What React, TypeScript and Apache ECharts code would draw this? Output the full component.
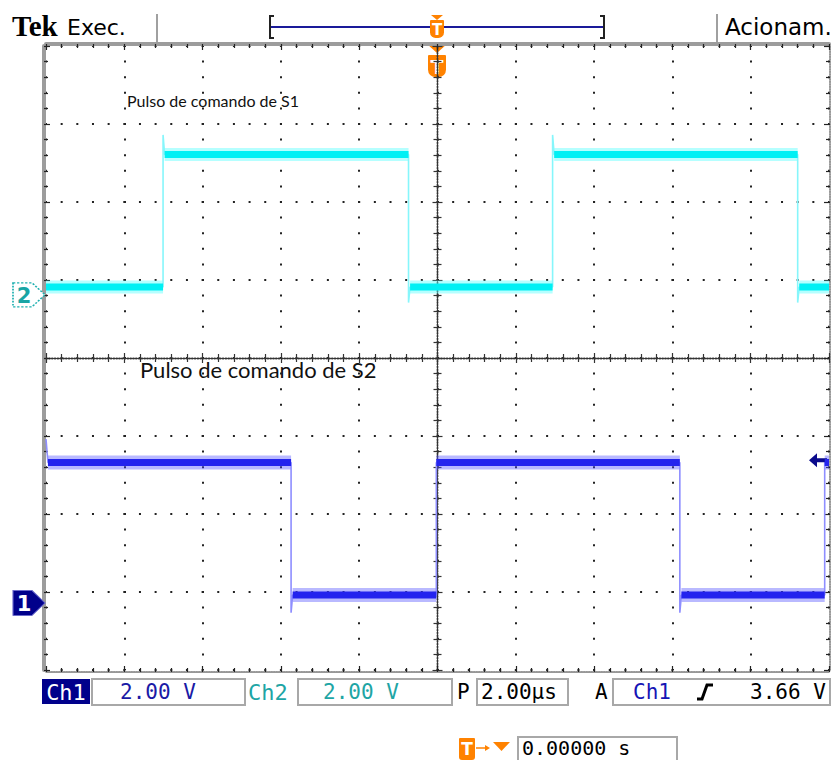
import React, { useEffect, useRef } from "react";
import * as echarts from "echarts";

// ---- scope settings ----
const timeMinUs = -10;
const timeMaxUs = 10;
const timePerDivUs = 2;
const divMinY = -4;
const divMaxY = 4;
const voltsPerDiv = 2;
const ch1OffsetDiv = -3.14; // ground marker "1"
const ch2OffsetDiv = 0.81; // ground marker "2"
const triggerLevelV = 3.66;

// ---- waveform vertices (time in µs, volts) ----
const ch1TimesUs = [-10, -9.95, -3.74, -3.74, -3.7, -0.03, -0.03, 6.19, 6.19, 6.23, 9.89, 9.89, 10];
const ch1Volts = [4.2, 3.6, 3.6, -0.25, 0.2, 0.2, 3.6, 3.6, -0.25, 0.2, 0.2, 3.6, 3.6];

const ch2TimesUs = [-10, -7.01, -7.01, -6.97, -0.74, -0.74, -0.7, 2.94, 2.94, 2.98, 9.2, 9.2, 9.24, 10];
const ch2Volts = [0.2, 0.2, 4.1, 3.6, 3.6, -0.2, 0.2, 0.2, 4.1, 3.6, 3.6, -0.2, 0.2, 0.2];

// ---- readouts ----
const ch1Scale = "2.00 V";
const ch2Scale = "2.00 V";
const timeScale = "2.00µs";
const triggerReadout = "3.66 V";
const triggerPos = "0.00000 s";
const labelS1 = "Pulso de comando de S1";
const labelS2 = "Pulso de comando de S2";

const GRID = { left: 46, top: 46, width: 783, height: 624 };
const subX = GRID.width / ((timeMaxUs - timeMinUs) / timePerDivUs) / 5;
const subY = GRID.height / (divMaxY - divMinY) / 5;

const toDiv = (v: number, off: number) => off + v / voltsPerDiv;

function tracePoints(ts: number[], vs: number[], off: number) {
  return ts.map((t, i) => [t, toDiv(vs[i], off)]);
}
function plateauPoints(ts: number[], vs: number[], off: number) {
  const out: any[] = [];
  for (let i = 0; i < ts.length - 1; i++) {
    if (vs[i] === vs[i + 1] && ts[i + 1] > ts[i]) {
      const y = toDiv(vs[i], off);
      out.push([ts[i], y], [ts[i + 1], y], [ts[i + 1], "-"]);
    }
  }
  return out;
}

const MONO = '"DejaVu Sans Mono"';
const ORANGE = "#ff8200";

function borderAxis(position: string, dim: "x" | "y", lineStyle: any, offset: number) {
  const base: any = {
    type: "value",
    position,
    offset,
    axisLine: { show: true, onZero: false, lineStyle },
    axisTick: { show: true, inside: true, length: 6, lineStyle: { color: "#222", width: 1.2 } },
    minorTick: { show: true, splitNumber: 5, length: 4, lineStyle: { color: "#222", width: 1.2 } },
    axisLabel: { show: false },
    splitLine: { show: false },
  };
  if (dim === "x") Object.assign(base, { min: timeMinUs, max: timeMaxUs, interval: timePerDivUs });
  else Object.assign(base, { min: divMinY, max: divMaxY, interval: 1 });
  return base;
}

function centerAxis(dim: "x" | "y", inside: boolean) {
  const base: any = {
    type: "value",
    position: dim === "x" ? "bottom" : "left",
    axisLine: {
      show: true,
      onZero: true,
      onZeroAxisIndex: 0,
      lineStyle: { color: "#333", width: 1.4, type: [1.4, 1.4] },
    },
    axisTick: { show: true, inside, length: 5, lineStyle: { color: "#333", width: 1.2 } },
    minorTick: { show: true, splitNumber: 5, length: 4, lineStyle: { color: "#333", width: 1.2 } },
    axisLabel: { show: false },
    splitLine: { show: false },
  };
  if (dim === "x") Object.assign(base, { min: timeMinUs, max: timeMaxUs, interval: timePerDivUs });
  else Object.assign(base, { min: divMinY, max: divMaxY, interval: 1 });
  return base;
}

function tMarker(cx: number, triTop: number, triH: number, triW: number, boxTop: number, boxW: number, boxH: number, fs: number) {
  return {
    type: "group",
    children: [
      {
        type: "polygon",
        shape: { points: [[cx - triW / 2, triTop], [cx + triW / 2, triTop], [cx, triTop + triH]] },
        style: { fill: ORANGE },
      },
      {
        type: "rect",
        shape: { x: cx - boxW / 2, y: boxTop, width: boxW, height: boxH, r: [1, 1, boxW / 2.5, boxW / 2.5] },
        style: { fill: ORANGE },
      },
      {
        type: "text",
        x: cx,
        y: boxTop + boxH / 2 + 1,
        style: { text: "T", font: `bold ${fs}px "DejaVu Sans"`, fill: "#fff", align: "center", verticalAlign: "middle" },
      },
    ],
  };
}

function boxRect(x: number, y: number, w: number, h: number) {
  return {
    type: "rect",
    shape: { x, y, width: w, height: h },
    style: { fill: "#fff", stroke: "#a8a8a8", lineWidth: 2 },
  };
}
function txt(x: number, y: number, text: string, font: string, fill: string, align = "left") {
  return { type: "text", x, y, style: { text, font, fill, align, verticalAlign: "middle" } };
}

export default function App() {
  const ref = useRef<HTMLDivElement>(null);
  useEffect(() => {
    if (!ref.current) return;
    const chart = echarts.init(ref.current, undefined, { renderer: "svg" });

    const ch1Trace = tracePoints(ch1TimesUs, ch1Volts, ch1OffsetDiv);
    const ch1Band = plateauPoints(ch1TimesUs, ch1Volts, ch1OffsetDiv);
    const ch2Trace = tracePoints(ch2TimesUs, ch2Volts, ch2OffsetDiv);
    const ch2Band = plateauPoints(ch2TimesUs, ch2Volts, ch2OffsetDiv);

    const lineSeries = (data: any[], color: string, width: number, z: number, extra: any = {}) => ({
      type: "line",
      data,
      xAxisIndex: 0,
      yAxisIndex: 0,
      showSymbol: false,
      symbol: "none",
      silent: true,
      connectNulls: false,
      lineStyle: { color, width, cap: "butt" },
      z,
      ...extra,
    });

    const option: any = {
      animation: false,
      backgroundColor: "#ffffff",
      grid: { ...GRID, containLabel: false },
      xAxis: [
        {
          ...borderAxis("bottom", "x", { color: "#777", width: 1.5, type: [1.5, 1] }, 2),
          splitLine: {
            show: true,
            lineStyle: { color: "#222", width: 2, type: [2, subY - 2], dashOffset: 1 },
          },
        },
        borderAxis("top", "x", { color: "#9c9c9c", width: 4 }, 2),
        centerAxis("x", true),
        centerAxis("x", false),
      ],
      yAxis: [
        {
          ...borderAxis("left", "y", { color: "#9c9c9c", width: 4 }, 2),
          splitLine: {
            show: true,
            lineStyle: { color: "#222", width: 2, type: [2, subX - 2], dashOffset: 1 },
          },
        },
        borderAxis("right", "y", { color: "#777", width: 1.5, type: [1.5, 1] }, 1),
        centerAxis("y", true),
        centerAxis("y", false),
      ],
      series: [
        lineSeries(ch2Band, "rgba(90,255,255,0.45)", 13, 3),
        lineSeries(ch2Trace, "#86f6fb", 1.6, 4),
        lineSeries(ch2Band, "#00f0f4", 7, 5, {
          markPoint: {
            silent: true,
            animation: false,
            data: [
              {
                coord: [timeMinUs, ch2OffsetDiv],
                symbol: "path://M0 0 H19 L32 12.5 L19 25 H0 Z",
                symbolSize: [32, 24],
                symbolOffset: [-17, 0],
                itemStyle: { color: "#ffffff", borderColor: "#1fb0b0", borderWidth: 1.5, borderType: [2, 1.5] },
                label: {
                  show: true,
                  position: "inside",
                  formatter: "2",
                  color: "#19a5a5",
                  fontSize: 21,
                  fontWeight: "bold",
                  fontFamily: "DejaVu Sans",
                  offset: [-5, 1],
                },
              },
            ],
          },
        }),
        lineSeries(ch1Band, "rgba(80,80,255,0.4)", 14, 3),
        lineSeries(ch1Trace, "#8e8eff", 1.6, 4),
        lineSeries(ch1Band, "#2424ee", 7, 5, {
          markPoint: {
            silent: true,
            animation: false,
            data: [
              {
                coord: [timeMinUs, ch1OffsetDiv],
                symbol: "path://M0 0 H19 L32 12.5 L19 25 H0 Z",
                symbolSize: [32, 25],
                symbolOffset: [-17, 0],
                itemStyle: { color: "#00008b", borderColor: "#6666cc", borderWidth: 1 },
                label: {
                  show: true,
                  position: "inside",
                  formatter: "1",
                  color: "#ffffff",
                  fontSize: 21,
                  fontWeight: "bold",
                  fontFamily: "DejaVu Sans",
                  offset: [-5, 1],
                },
              },
              {
                coord: [timeMaxUs, toDiv(triggerLevelV, ch1OffsetDiv)],
                symbol: "path://M0 7 L8 0 L8 5 L18 5 L18 9 L8 9 L8 14 Z",
                symbolSize: [18, 14],
                symbolOffset: [-11, 0],
                itemStyle: { color: "#0a0a8c" },
                label: { show: false },
              },
            ],
          },
        }),
      ],
      graphic: [
        // header
        txt(12, 26, "Tek", 'bold 29px "Liberation Serif"', "#000"),
        txt(67, 27, "Exec.", '22px "DejaVu Sans"', "#000"),
        { type: "line", shape: { x1: 157, y1: 14, x2: 157, y2: 42 }, style: { stroke: "#a0a0a0", lineWidth: 2 } },
        { type: "line", shape: { x1: 717, y1: 14, x2: 717, y2: 42 }, style: { stroke: "#a0a0a0", lineWidth: 2 } },
        { type: "line", shape: { x1: 271, y1: 27, x2: 603, y2: 27 }, style: { stroke: "#1a1a99", lineWidth: 2 } },
        {
          type: "polyline",
          shape: { points: [[274, 16], [270, 16], [270, 38], [274, 38]] },
          style: { stroke: "#222", lineWidth: 2, fill: "none" },
        },
        {
          type: "polyline",
          shape: { points: [[600, 16], [604, 16], [604, 38], [600, 38]] },
          style: { stroke: "#222", lineWidth: 2, fill: "none" },
        },
        tMarker(437, 15, 5, 12, 20, 14, 18, 15),
        tMarker(437, 44, 9, 20, 55, 18, 22, 19),
        txt(725, 27, "Acionam.", '23px "DejaVu Sans"', "#000"),
        // annotations
        txt(127, 100, labelS1, '16px "Lato"', "#111"),
        txt(140, 369, labelS2, '22px "Lato"', "#111"),
        // footer
        { type: "rect", shape: { x: 42, y: 679, width: 48, height: 25 }, style: { fill: "#00008b" } },
        txt(66, 692, "Ch1", `22px ${MONO}`, "#ffffff", "center"),
        boxRect(92, 679, 153, 26),
        txt(120, 692, ch1Scale, `21px ${MONO}`, "#1a1aa6"),
        txt(248, 692, "Ch2", `22px ${MONO}`, "#1ea5a5"),
        boxRect(298, 679, 154, 26),
        txt(323, 692, ch2Scale, `21px ${MONO}`, "#1ea5a5"),
        txt(457, 692, "P", `21px ${MONO}`, "#000"),
        boxRect(477, 679, 91, 26),
        txt(481, 692, timeScale, `21px ${MONO}`, "#000"),
        txt(595, 692, "A", `21px ${MONO}`, "#000"),
        boxRect(613, 679, 217, 26),
        txt(633, 692, "Ch1", `21px ${MONO}`, "#1515b5"),
        {
          type: "polyline",
          shape: { points: [[697, 699], [702, 699], [707, 685], [713, 685]] },
          style: { stroke: "#000", lineWidth: 3, fill: "none" },
        },
        txt(750, 692, triggerReadout, `21px ${MONO}`, "#000"),
        // trigger position
        { type: "rect", shape: { x: 459, y: 738, width: 16, height: 22, r: [1, 1, 3, 3] }, style: { fill: ORANGE } },
        txt(467, 749, "T", 'bold 17px "DejaVu Sans"', "#fff", "center"),
        { type: "line", shape: { x1: 476, y1: 748, x2: 488, y2: 748 }, style: { stroke: ORANGE, lineWidth: 1.5 } },
        { type: "polygon", shape: { points: [[485, 745], [490, 748], [485, 751]] }, style: { fill: ORANGE } },
        { type: "polygon", shape: { points: [[493, 742], [510, 742], [501.5, 751]] }, style: { fill: ORANGE } },
        boxRect(518, 737, 159, 26),
        txt(522, 748, triggerPos, `20px ${MONO}`, "#000"),
      ],
    };

    chart.setOption(option);
    return () => chart.dispose();
  }, []);

  return (
    <div
      ref={ref}
      style={{ position: "fixed", left: 0, top: 0, width: 840, height: 760, background: "#fff" }}
    />
  );
}
